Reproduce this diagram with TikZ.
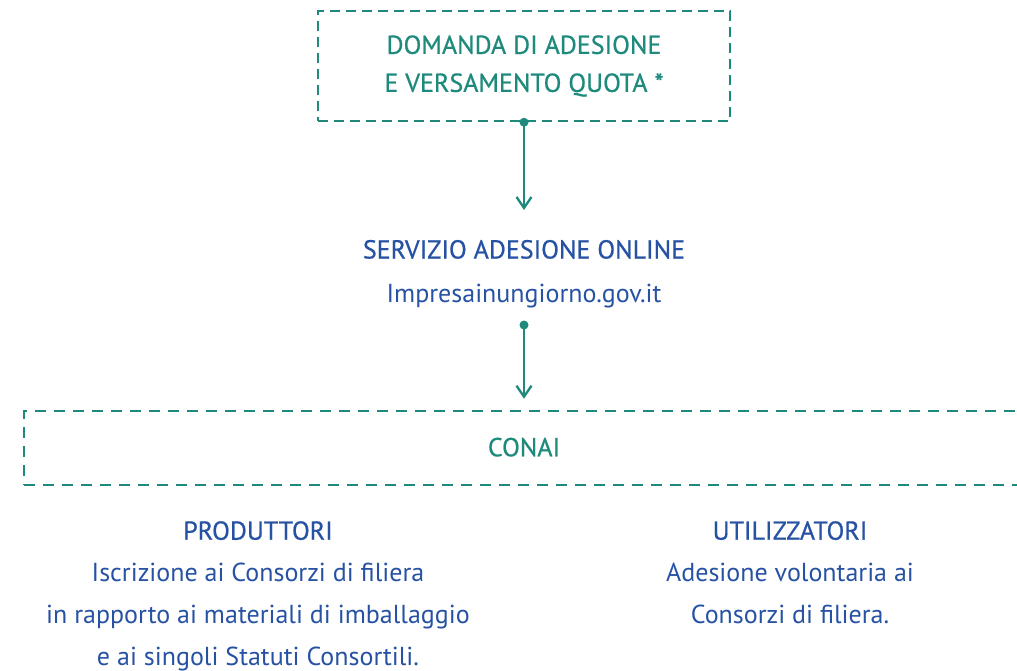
\documentclass[tikz,border=0pt]{standalone}
\usepackage{fontspec}
\setmainfont{PT Sans}
\newfontfamily\headfont[FakeBold=0.7]{PT Sans}
\usetikzlibrary{arrows.meta}
\definecolor{conaigreen}{HTML}{1E8A7C}
\definecolor{conaiblue}{HTML}{2752A3}

\begin{document}
\begin{tikzpicture}[x=1pt,y=-1pt,font=\fontsize{26}{38}\selectfont,
    box/.style={draw=conaigreen,line width=2.5pt,dash pattern=on 10pt off 6pt,text=conaigreen,align=center,inner sep=0pt,font=\fontsize{26}{38}\headfont},
    link/.style={draw=conaigreen,line width=2.3pt,-{Straight Barb[length=11pt,width=15pt,line width=2.3pt]}},
    info/.style={text=conaiblue,align=center,inner sep=0pt,font=\fontsize{26}{42}\selectfont}]
    \useasboundingbox (0,0) rectangle (1017,671);
    % domanda
    \node[box,minimum width=412,minimum height=110] (domanda) at (524,66) {DOMANDA DI ADESIONE\\E VERSAMENTO QUOTA *};
    % servizio online
    \node[info,font=\fontsize{26}{44}\selectfont] (servizio) at (524,274) {{\headfont SERVIZIO ADESIONE ONLINE}\\Impresainungiorno.gov.it};
    \coordinate (servizioin) at (524,210);
    \coordinate (serviziout) at (524,325);
    \fill[conaigreen] (domanda.south) circle (4.5);
    \draw[link] (domanda.south) -- (servizioin);
    % conai
    \node[box,dash pattern=on 11pt off 8pt,minimum width=1000,minimum height=74] (conai) at (524,448) {\raisebox{2pt}{CONAI}};
    \fill[conaigreen] (serviziout) circle (4.5);
    \draw[link,shorten >=11pt] (serviziout) -- (conai.north);
    % produttori / utilizzatori
    \node[info,anchor=north] (produttori) at (258,521) {{\headfont PRODUTTORI}\\Iscrizione ai Consorzi di filiera\\in rapporto ai materiali di imballaggio\\e ai singoli Statuti Consortili.};
    \node[info,anchor=north] (utilizzatori) at (790,521) {{\headfont UTILIZZATORI}\\Adesione volontaria ai\\Consorzi di filiera.};
\end{tikzpicture}
\end{document}
